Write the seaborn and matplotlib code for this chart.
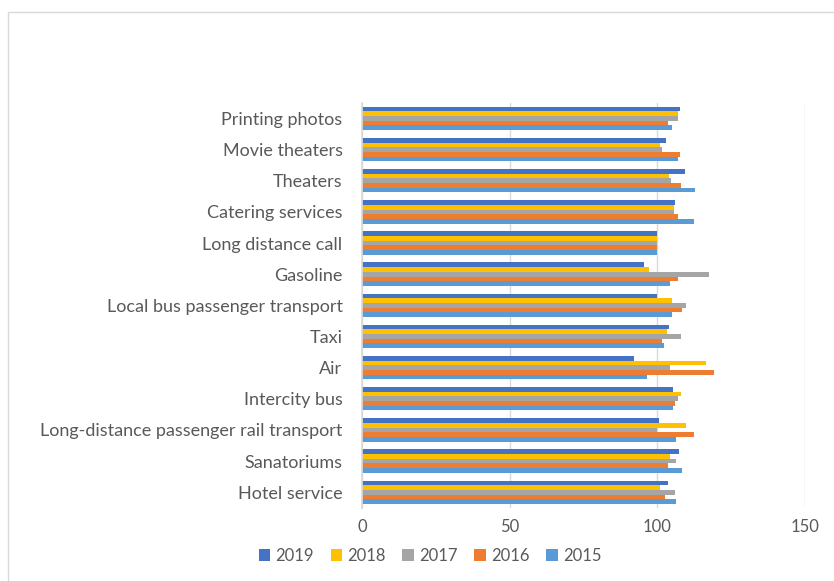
import matplotlib
matplotlib.use("Agg")
import matplotlib.pyplot as plt
from matplotlib.patches import Rectangle
import seaborn as sns
import pandas as pd

# Price indices of services by category, 2015-2019
categories = [
    "Printing photos", "Movie theaters", "Theaters", "Catering services",
    "Long distance call", "Gasoline", "Local bus passenger transport", "Taxi",
    "Air", "Intercity bus", "Long-distance passenger rail transport",
    "Sanatoriums", "Hotel service",
]
years = ["2019", "2018", "2017", "2016", "2015"]

v2019 = [107.7, 102.9, 109.4, 106.0, 100.0, 95.4, 100.0, 103.9, 92.1, 105.4, 100.7, 107.5, 103.6]
v2018 = [106.9, 100.9, 104.0, 105.8, 100.0, 97.2, 105.0, 103.2, 116.5, 107.9, 109.8, 104.2, 101.0]
v2017 = [106.9, 101.5, 104.6, 105.8, 100.0, 117.6, 109.6, 107.9, 104.5, 107.1, 100.1, 106.5, 106.1]
v2016 = [103.5, 107.8, 108.1, 107.1, 100.0, 107.0, 108.5, 101.5, 119.3, 106.1, 112.4, 103.5, 102.8]
v2015 = [104.9, 106.9, 112.8, 112.3, 100.0, 104.5, 105.0, 102.4, 96.6, 105.2, 106.3, 108.5, 106.3]

colors = ["#4472C4", "#FFC000", "#A5A5A5", "#ED7D31", "#5B9BD5"]
x_ticks = [0, 50, 100, 150]

series = dict(zip(years, [v2019, v2018, v2017, v2016, v2015]))
df = pd.DataFrame(
    [(c, y, series[y][i]) for y in years for i, c in enumerate(categories)],
    columns=["category", "year", "value"],
)

sns.set_theme(style="white")
plt.rcParams["font.family"] = ["Lato", "DejaVu Sans"]

fig = plt.figure(figsize=(8.34, 5.81), dpi=100)
ax = fig.add_axes([0.434, 0.126, 0.531, 0.697])

sns.barplot(
    data=df, x="value", y="category", hue="year",
    order=categories, hue_order=years, palette=colors,
    orient="h", width=0.75, ax=ax, legend=True,
    saturation=1, linewidth=0,
)

ax.set_xlim(0, 150)
ax.set_xticks(x_ticks)
ax.set_xlabel("")
ax.set_ylabel("")
ax.grid(axis="x", color="#D9D9D9", linewidth=1)
ax.set_axisbelow(True)
for side in ["top", "right", "bottom"]:
    ax.spines[side].set_visible(False)
ax.spines["left"].set_color("#D9D9D9")
ax.tick_params(axis="both", length=0, colors="#595959", labelsize=12)
ax.tick_params(axis="x", pad=8)
ax.tick_params(axis="y", pad=14, labelsize=13)

handles, labels = ax.get_legend_handles_labels()
ax.legend_.remove()
fig.legend(
    handles, labels, loc="center", bbox_to_anchor=(430 / 834, 1 - 556 / 581),
    ncol=5, frameon=False, fontsize=12, labelcolor="#595959",
    handlelength=0.7, handleheight=0.7, handletextpad=0.3, columnspacing=1.0,
)

# Chart area border
fig.patches.append(Rectangle((8 / 834, -0.05), 1.2, 1 - 12 / 581 + 0.05,
                             transform=fig.transFigure, fill=False,
                             edgecolor="#D9D9D9", linewidth=1))

fig.savefig("out.png", dpi=100)
